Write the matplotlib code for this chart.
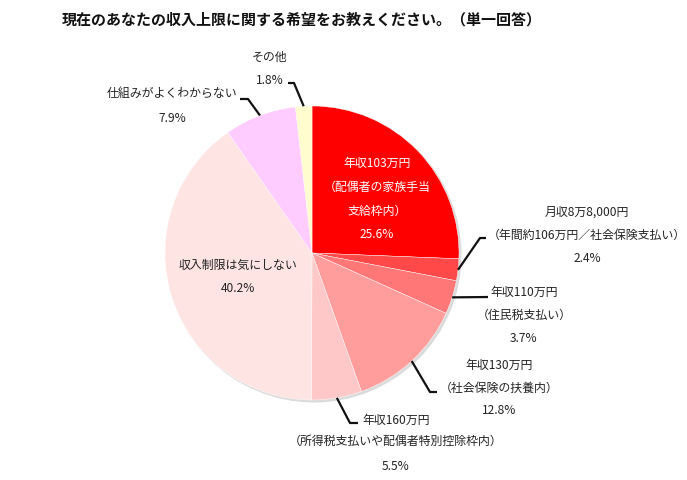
import numpy as np
import matplotlib
matplotlib.use("Agg")
import matplotlib.pyplot as plt
from matplotlib.patches import Circle

plt.rcParams['font.family'] = ['Noto Sans CJK JP', 'DejaVu Sans']

# --------------------------
# DATA (clockwise from 12 o'clock)
# --------------------------
categories = [
    "年収103万円\n（配偶者の家族手当\n支給枠内）",
    "月収8万8,000円\n（年間約106万円／社会保険支払い）",
    "年収110万円\n（住民税支払い）",
    "年収130万円\n（社会保険の扶養内）",
    "年収160万円\n（所得税支払いや配偶者特別控除枠内）",
    "収入制限は気にしない",
    "仕組みがよくわからない",
    "その他",
]
shares = [25.6, 2.4, 3.7, 12.8, 5.5, 40.2, 7.9, 1.8]
colors = ["#FF0000", "#FF4848", "#FF7777", "#FF9C9C",
          "#FFC8C8", "#FFE4E4", "#FFCCFF", "#FFFCCF"]
title = "現在のあなたの収入上限に関する希望をお教えください。（単一回答）"

# --------------------------
# LAYOUT (pixel coordinates, y measured from top)
# --------------------------
W, H = 687, 480
cx, cy, R = 312, 253, 147


def py(y):
    return H - y


# label centre (x, y of first line) and leader elbow/end points, or None for inside labels
label_pos = [(377, 163), (587, 212), (524, 292), (499, 365),
             (396, 420), (238, 265), (172, 93), (270, 57)]
leader = [None,
          [(480, 238), (486, 238)],
          [(488, 297)],
          [(430, 392), (437, 392)],
          [(350, 423), (358, 423)],
          None,
          [(248, 99), (240, 99)],
          [(294, 83), (288, 83)]]
line_gap = [24, 23, 23, 23, 21, 24, 25, 24]

fig = plt.figure(figsize=(W / 100, H / 100), dpi=100)
ax = fig.add_axes([0, 0, 1, 1])

# soft shadow under the pie
ax.add_patch(Circle((cx + 2, py(cy) - 2), R + 0.5, color="#888888", alpha=0.3, zorder=0, lw=0))

wedges, _ = ax.pie(shares, colors=colors, startangle=90, counterclock=False,
                   center=(cx, py(cy)), radius=R,
                   wedgeprops=dict(edgecolor="white", linewidth=0.3))
for w in wedges:
    w.set_zorder(1)

ax.set_xlim(0, W)
ax.set_ylim(0, H)
ax.set_aspect("equal")
ax.axis("off")

for i, (cat, val) in enumerate(zip(categories, shares)):
    lines = cat.split("\n") + [f"{val:.1f}%"]
    x0, y0 = label_pos[i]
    col = "white" if i == 0 else "#222222"
    if i == 4:
        # first line sits right of the leader, others centred below
        ax.text(362, py(y0), lines[0], ha="left", va="center", fontsize=8.6, color=col)
        ax.text(x0, py(441), lines[1], ha="center", va="center", fontsize=8.6, color=col)
        ax.text(x0, py(466), lines[2], ha="center", va="center", fontsize=8.6, color=col)
    else:
        for k, t in enumerate(lines):
            ax.text(x0, py(y0 + k * line_gap[i]), t, ha="center", va="center",
                    fontsize=8.6, color=col)

    if leader[i] is not None:
        w = wedges[i]
        mid = np.deg2rad((w.theta1 + w.theta2) / 2)
        start = (cx + R * np.cos(mid), py(cy) + R * np.sin(mid))
        pts = [start] + [(x, py(y)) for x, y in leader[i]]
        xs, ys = zip(*pts)
        ax.plot(xs, ys, color="#111111", lw=1.6, solid_capstyle="butt", zorder=3)

fig.text(62 / W, 1 - 20 / H, title, ha="left", va="center", fontsize=10.8,
         fontweight="bold", color="#111111")

fig.savefig("out.png", dpi=100)
